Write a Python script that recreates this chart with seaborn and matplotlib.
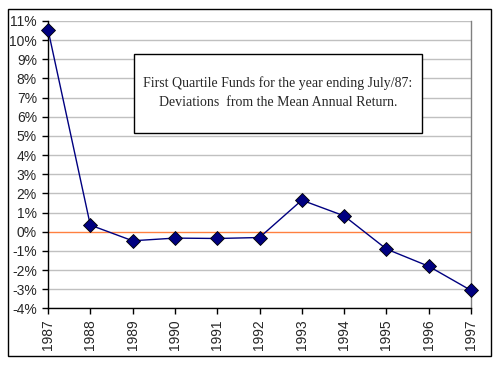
import numpy as np
import pandas as pd
import matplotlib
matplotlib.use("Agg")
import matplotlib.pyplot as plt
from matplotlib.patches import Rectangle
import seaborn as sns

years = [1987, 1988, 1989, 1990, 1991, 1992, 1993, 1994, 1995, 1996, 1997]
deviation = [10.55, 0.35, -0.47, -0.33, -0.35, -0.30, 1.65, 0.83, -0.90, -1.80, -3.06]
yticks = list(range(-4, 12))
box_text = "First Quartile Funds for the year ending July/87:\nDeviations  from the Mean Annual Return."

df = pd.DataFrame({"year": years, "dev": deviation})

sns.set_style("white")
plt.rcParams["font.family"] = ["Liberation Sans", "DejaVu Sans"]

fig = plt.figure(figsize=(5, 3.65), dpi=100)
ax = fig.add_axes([0.096, 0.155, 0.846, 0.7875])

# outer chart border
fig.patches.append(Rectangle((8 / 500, 9 / 365), 483 / 500, 347 / 365, transform=fig.transFigure,
                             fill=False, edgecolor="black", linewidth=1.0))

for t in yticks:
    if t == 0:
        continue
    ax.axhline(t, color="#c0c0c0", linewidth=1.0, zorder=0)
ax.axhline(0, color="#ff8040", linewidth=1.0, zorder=1)

sns.lineplot(data=df, x="year", y="dev", ax=ax, color="#000080", linewidth=1.0,
             marker="D", markersize=7, markerfacecolor="#000080", markeredgecolor="black",
             markeredgewidth=0.6, zorder=3, clip_on=False)

ax.set_xlim(1987, 1997)
ax.set_ylim(-4, 11)
ax.set_xticks(years)
ax.set_xticklabels([str(y) for y in years], rotation=90, fontsize=10)
ax.set_yticks(yticks)
ax.set_yticklabels([f"{t}%" for t in yticks], fontsize=10)
ax.set_xlabel("")
ax.set_ylabel("")
ax.tick_params(axis="both", direction="out", length=4, width=1, color="black", pad=4,
               left=True, bottom=True)

ax.spines["top"].set_visible(False)
ax.spines["right"].set_color("#808080")
ax.spines["left"].set_color("black")
ax.spines["bottom"].set_color("black")
for s in ax.spines.values():
    s.set_linewidth(1.0)

# annotation box
ax.add_patch(Rectangle((134 / 500, 1 - 133 / 365), 288 / 500, 79 / 365,
                       transform=fig.transFigure, fill=True, facecolor="white",
                       edgecolor="black", linewidth=1.0, zorder=4, clip_on=False))
ax.text(278 / 500, 1 - 93 / 365, box_text, transform=fig.transFigure, ha="center", va="center",
        fontsize=10, family=["Liberation Serif", "DejaVu Serif"], linespacing=1.6, zorder=5)

fig.savefig("out.png", dpi=100)
